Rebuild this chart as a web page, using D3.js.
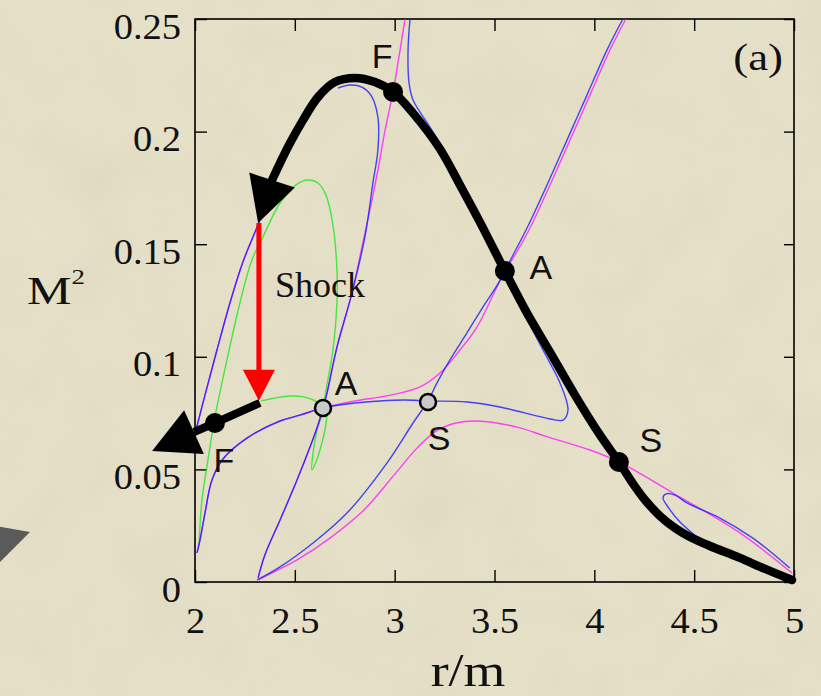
<!DOCTYPE html>
<html><head><meta charset="utf-8">
<script src="https://cdn.jsdelivr.net/npm/d3@7/dist/d3.min.js"></script>
<style>html,body{margin:0;padding:0;background:#e8e2c8;} svg{display:block}</style>
</head><body><svg id="c" width="821" height="696"></svg>
<script>
// ---------- data (r/m, M^2) ----------
const xTicks = [2, 2.5, 3, 3.5, 4, 4.5, 5];
const xTickLabels = ["2", "2.5", "3", "3.5", "4", "4.5", "5"];
const yTicks = [0, 0.05, 0.1, 0.15, 0.2, 0.25];
const yTickLabels = ["0", "0.05", "0.1", "0.15", "0.2", "0.25"];

// thick black solution path (from r=5 inward), ends at arrow base
const solutionPath = [[4.990,0.0009],[4.855,0.0058],[4.729,0.0107],[4.579,0.0160],[4.479,0.0200],[4.404,0.0240],[4.329,0.0293],[4.254,0.0364],[4.188,0.0444],[4.123,0.0533],[4.028,0.0653],[3.903,0.0830],[3.778,0.1021],[3.663,0.1194],[3.552,0.1381],[3.427,0.1598],[3.327,0.1763],[3.227,0.1923],[3.092,0.2082],[2.992,0.2176],[2.901,0.2220],[2.801,0.2238],[2.701,0.2220],[2.616,0.2153],[2.541,0.2051],[2.476,0.1949],[2.421,0.1851],[2.386,0.1785]];
const solutionArrowTip = [2.316, 0.1594];
// post-shock black path
const postShockPath = [[2.325,0.0795],[2.100,0.0706],[1.995,0.0666]];
const postShockArrowTip = [1.785, 0.0582];
// shock jump
const shockR = 2.32, shockFrom = 0.1594, shockTo = 0.0805;

// thin curves
const blueHook = [[3.077,0.2500],[3.067,0.2362],[3.072,0.2216],[3.092,0.2140],[3.127,0.2087],[3.177,0.2020],[3.252,0.1909],[3.337,0.1776],[3.427,0.1616],[3.512,0.1465],[3.552,0.1381],[3.628,0.1230],[3.743,0.1030],[3.828,0.0884],[3.868,0.0764],[3.843,0.0719],[3.778,0.0724],[3.527,0.0777],[3.362,0.0799],[3.167,0.0804],[3.052,0.0808],[2.926,0.0804],[2.801,0.0795],[2.641,0.0773],[2.526,0.0741],[2.426,0.0715],[2.260,0.0639],[2.140,0.0546],[2.085,0.0453],[2.050,0.0306],[2.025,0.0186],[2.010,0.0129]];
const blueLoop = [[2.316,0.0018],[2.350,0.0120],[2.426,0.0275],[2.511,0.0453],[2.576,0.0599],[2.616,0.0697],[2.641,0.0773],[2.661,0.0839],[2.711,0.1043],[2.786,0.1283],[2.851,0.1532],[2.891,0.1772],[2.916,0.1918],[2.916,0.2065],[2.881,0.2162],[2.836,0.2198],[2.776,0.2207],[2.716,0.2193]];
const blueA = [[4.143,0.2500],[4.063,0.2362],[3.963,0.2162],[3.863,0.1962],[3.763,0.1763],[3.663,0.1572],[3.593,0.1452],[3.552,0.1381],[3.517,0.1323],[3.442,0.1221],[3.362,0.1106],[3.277,0.0986],[3.212,0.0884],[3.167,0.0804],[3.092,0.0706],[2.961,0.0528],[2.761,0.0306],[2.591,0.0173],[2.426,0.0067],[2.311,0.0009]];
const blueS = [[4.514,0.0200],[4.429,0.0266],[4.369,0.0333],[4.344,0.0373],[4.359,0.0391],[4.404,0.0386],[4.464,0.0351],[4.629,0.0284],[4.794,0.0195],[4.914,0.0111],[4.979,0.0062]];
const blueL = [[2.005,0.0675],[2.050,0.0830],[2.110,0.1030],[2.175,0.1239],[2.240,0.1421],[2.311,0.1576],[2.366,0.1696]];

const magentaF = [[3.052,0.2500],[3.027,0.2362],[2.992,0.2176],[2.952,0.2007],[2.916,0.1829],[2.876,0.1652],[2.836,0.1487],[2.786,0.1283],[2.711,0.1043],[2.661,0.0839],[2.641,0.0773],[2.616,0.0697],[2.576,0.0599],[2.511,0.0453],[2.426,0.0275],[2.350,0.0120],[2.316,0.0018]];
const magentaA = [[4.158,0.2500],[4.078,0.2362],[3.978,0.2162],[3.878,0.1962],[3.778,0.1763],[3.678,0.1572],[3.603,0.1452],[3.552,0.1381],[3.512,0.1310],[3.412,0.1132],[3.327,0.1030],[3.227,0.0928],[3.127,0.0866],[3.027,0.0839],[2.926,0.0821],[2.801,0.0804],[2.641,0.0773],[2.526,0.0741],[2.426,0.0715],[2.260,0.0639],[2.140,0.0546],[2.085,0.0453],[2.050,0.0306],[2.025,0.0186],[2.010,0.0129]];
const magentaS = [[2.316,0.0009],[2.426,0.0058],[2.511,0.0098],[2.676,0.0195],[2.841,0.0315],[3.002,0.0480],[3.107,0.0590],[3.207,0.0670],[3.307,0.0706],[3.412,0.0715],[3.613,0.0688],[3.753,0.0648],[3.978,0.0586],[4.123,0.0533],[4.394,0.0395],[4.729,0.0218],[4.990,0.0040]];
const magentaL = blueL;

const greenLoop = [[2.020,0.0164],[2.035,0.0364],[2.065,0.0542],[2.100,0.0733],[2.160,0.0986],[2.225,0.1239],[2.285,0.1430],[2.340,0.1532],[2.426,0.1683],[2.511,0.1767],[2.566,0.1785],[2.616,0.1772],[2.656,0.1718],[2.691,0.1585],[2.711,0.1385],[2.711,0.1239],[2.691,0.1030],[2.661,0.0875],[2.641,0.0773]];
const greenShock = [[2.330,0.0804],[2.400,0.0817],[2.476,0.0826],[2.551,0.0821],[2.611,0.0799],[2.641,0.0773],[2.611,0.0675],[2.591,0.0573],[2.586,0.0497],[2.606,0.0533],[2.626,0.0586],[2.651,0.0675],[2.661,0.0741]];

const criticalSolid = [[2.992,0.2176],[3.552,0.1381],[4.123,0.0533],[2.100,0.0706]];
const criticalSolidLabels = ["F","A","S","F"];
const criticalOpen = [[2.641,0.0773],[3.167,0.0799]];
const criticalOpenLabels = ["A","S"];

// ---------- drawing ----------
const svg = d3.select("#c");
const W = 821, H = 696;
const x = d3.scaleLinear().domain([2,5]).range([195,794]);
const y = d3.scaleLinear().domain([0,0.25]).range([582,19]);
const serif = "'Liberation Serif','Times New Roman',serif";
const sans = "'Liberation Sans',Arial,sans-serif";

// paper background with faint mottling
const defs = svg.append("defs");
const f = defs.append("filter").attr("id","paper").attr("x",0).attr("y",0).attr("width","100%").attr("height","100%");
f.append("feTurbulence").attr("type","fractalNoise").attr("baseFrequency","0.015").attr("numOctaves",4).attr("seed",7);
f.append("feColorMatrix").attr("type","matrix").attr("values","0.33 0.33 0.33 0 0  0.33 0.33 0.33 0 0  0.33 0.33 0.33 0 0  0 0 0 0 1");
svg.append("rect").attr("width",W).attr("height",H).attr("fill","#e8e2c8");
svg.append("rect").attr("width",W).attr("height",H).attr("filter","url(#paper)").attr("opacity",0.07);

// decorative gray triangle at left edge
svg.append("path").attr("d","M-5,526 L30,532 L-5,567 Z").attr("fill","#5a5a5a");

const line = d3.line().x(d=>x(d[0])).y(d=>y(d[1])).curve(d3.curveCatmullRom.alpha(0.5));

// axes (ticks inward on all four sides)
const gB = svg.append("g").attr("transform",`translate(0,${y(0)})`)
  .call(d3.axisBottom(x).tickValues(xTicks).tickSize(-12).tickFormat((d,i)=>xTickLabels[i]));
const gT = svg.append("g").attr("transform",`translate(0,${y(0.25)})`)
  .call(d3.axisTop(x).tickValues(xTicks).tickSize(-12).tickFormat(""));
const gL = svg.append("g").attr("transform",`translate(${x(2)},0)`)
  .call(d3.axisLeft(y).tickValues(yTicks).tickSize(-12).tickFormat((d,i)=>yTickLabels[i]));
const gR = svg.append("g").attr("transform",`translate(${x(5)},0)`)
  .call(d3.axisRight(y).tickValues(yTicks).tickSize(-10).tickFormat(""));
[gB,gT,gL,gR].forEach(g=>{ g.select(".domain").remove(); g.selectAll("line").attr("stroke","#000").attr("stroke-width",1.4); });
gB.selectAll("text").attr("x",0).attr("y",0).attr("dy",0)
  .attr("transform","translate(0,51) scale(1.1,1)")
  .attr("font-family",serif).attr("font-size",35).attr("fill","#111").attr("text-anchor","middle");
gL.selectAll("text").attr("x",0).attr("y",0).attr("dy",0)
  .attr("transform","translate(-14,19) scale(1.1,1)")
  .attr("font-family",serif).attr("font-size",35).attr("fill","#111").attr("text-anchor","end");

svg.append("rect").attr("x",x(2)).attr("y",y(0.25)).attr("width",x(5)-x(2)).attr("height",y(0)-y(0.25))
  .attr("fill","none").attr("stroke","#000").attr("stroke-width",1.6);

// thin curves
const thin = svg.append("g").attr("fill","none").attr("stroke-width",1.4).attr("stroke-opacity",0.8);
const thinSeries = [
  [greenLoop,"#1ee81e"],[greenShock,"#1ee81e"],
  [magentaF,"#ff1aff"],[magentaA,"#ff1aff"],[magentaS,"#ff1aff"],[magentaL,"#ff1aff"],
  [blueHook,"#1a1aff"],[blueLoop,"#1a1aff"],[blueA,"#1a1aff"],[blueS,"#1a1aff"],[blueL,"#1a1aff"]
];
thinSeries.forEach(([d,c])=>thin.append("path").attr("d",line(d)).attr("stroke",c));

// arrow helper
function arrowHead(base, tip, halfW, fill){
  const bx=x(base[0]), by=y(base[1]), tx=x(tip[0]), ty=y(tip[1]);
  const dx=tx-bx, dy=ty-by, L=Math.hypot(dx,dy), nx=-dy/L, ny=dx/L;
  svg.append("path").attr("d",`M${tx},${ty} L${bx+nx*halfW},${by+ny*halfW} L${bx-nx*halfW},${by-ny*halfW} Z`).attr("fill",fill);
}

// shock arrow
svg.append("line").attr("x1",x(shockR)).attr("x2",x(shockR)).attr("y1",y(shockFrom)).attr("y2",y(shockTo)-28)
  .attr("stroke","#ff0000").attr("stroke-width",5);
arrowHead([shockR, y.invert(y(shockTo)-31)], [shockR, shockTo], 16, "#ff0000");

// thick black solution
svg.append("path").attr("d",line(solutionPath)).attr("fill","none").attr("stroke","#000").attr("stroke-width",8.5).attr("stroke-linecap","round");
arrowHead(solutionPath[solutionPath.length-1], solutionArrowTip, 24, "#000");
svg.append("path").attr("d",d3.line().x(d=>x(d[0])).y(d=>y(d[1]))(postShockPath)).attr("fill","none").attr("stroke","#000").attr("stroke-width",8);
arrowHead(postShockPath[postShockPath.length-1], postShockArrowTip, 24, "#000");

// critical points
svg.selectAll(".cs").data(criticalSolid).join("circle").attr("cx",d=>x(d[0])).attr("cy",d=>y(d[1])).attr("r",10).attr("fill","#000");
svg.selectAll(".co").data(criticalOpen).join("circle").attr("cx",d=>x(d[0])).attr("cy",d=>y(d[1])).attr("r",8).attr("fill","#c9c9c9").attr("stroke","#000").attr("stroke-width",2.5);
const solidOff = [[-11,-24],[36,8],[32,-10],[9,49]];
const openOff = [[23,-13],[11,48]];
criticalSolid.forEach((d,i)=>svg.append("text").attr("x",x(d[0])+solidOff[i][0]).attr("y",y(d[1])+solidOff[i][1])
  .attr("text-anchor","middle").attr("font-family",sans).attr("font-size",34).attr("fill","#111").text(criticalSolidLabels[i]));
criticalOpen.forEach((d,i)=>svg.append("text").attr("x",x(d[0])+openOff[i][0]).attr("y",y(d[1])+openOff[i][1])
  .attr("text-anchor","middle").attr("font-family",sans).attr("font-size",34).attr("fill","#111").text(criticalOpenLabels[i]));

// texts
svg.append("text").attr("transform","translate(275,297)").attr("font-family",serif).attr("font-size",36).attr("fill","#111").text("Shock");
svg.append("text").attr("transform","translate(783,70) scale(1.15,1)").attr("text-anchor","end").attr("font-family",serif).attr("font-size",39).attr("fill","#111").text("(a)");
svg.append("text").attr("transform","translate(468,686) scale(1.17,1)").attr("text-anchor","middle").attr("font-family",serif).attr("font-size",46).attr("fill","#111").text("r/m");
const mt = svg.append("text").attr("transform","translate(27,304) scale(1.28,1)").attr("font-family",serif).attr("font-size",39).attr("fill","#111");
mt.append("tspan").text("M");
mt.append("tspan").attr("dy",-20).attr("font-size",21).text("2");
</script></body></html>
